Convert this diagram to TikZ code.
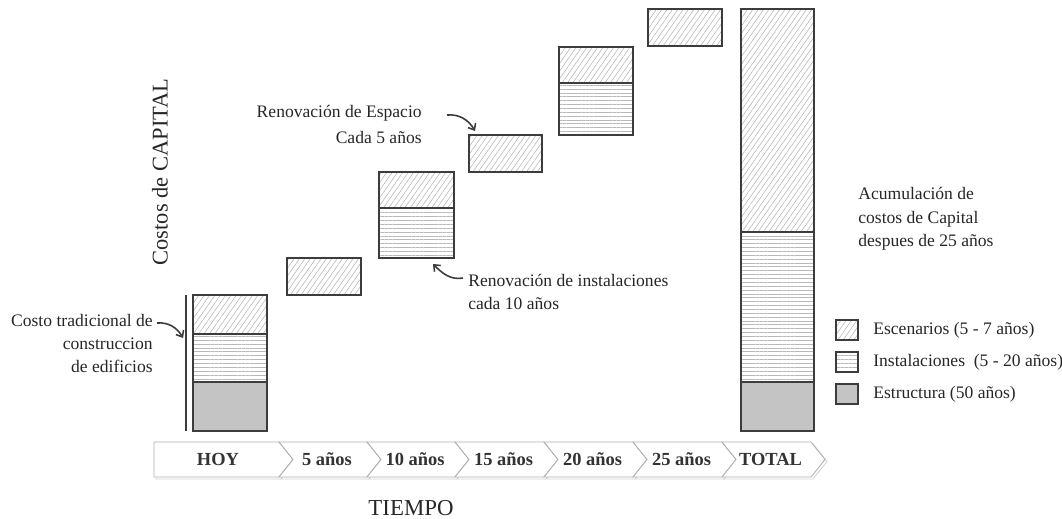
\documentclass[tikz,border=0pt]{standalone}
\usepackage{fontspec}
\setmainfont{Liberation Serif}
\usetikzlibrary{arrows.meta, patterns.meta, calc}
\definecolor{framegray}{RGB}{60, 60, 60}
\definecolor{structgray}{RGB}{196, 196, 196}
\tikzset{
    escenario/.style={draw=framegray, line width=0.8pt, pattern={Lines[angle=55, distance=2.5pt, line width=0.3pt]}, pattern color=gray!60},
    instalacion/.style={draw=framegray, line width=0.8pt, pattern={Lines[angle=0, distance=2.2pt, line width=0.35pt]}, pattern color=gray!55},
    estructura/.style={draw=framegray, line width=0.8pt, fill=structgray},
    note/.style={font=\fontsize{10}{13}\selectfont, inner sep=0pt, text=black!85},
    curvy/.style={-{Straight Barb[length=3pt, width=5pt]}, line width=0.9pt, framegray},
    chevron/.style={draw=gray!60, fill=white, line width=0.5pt},
    chevshadow/.style={draw=gray!35, line width=0.5pt},
    steplabel/.style={font=\fontsize{10.5}{12}\selectfont\bfseries, text=black!80}
}

\begin{document}
\begin{tikzpicture}[x=0.02cm, y=0.02cm]
    \useasboundingbox (0,0) rectangle (1062,-518);

    % --- axis titles ---
    \node[rotate=90, font=\fontsize{12.8}{15}\selectfont, text=black!85] (ejecostos) at (160,-172) {Costos de CAPITAL};
    \node[font=\fontsize{13}{15}\selectfont, text=black!85, anchor=base] (ejetiempo) at (411,-515) {TIEMPO};

    % --- HOY: traditional building ---
    \draw[framegray, line width=0.6pt] (186,-295) -- (186,-431);
    \draw[escenario] (193,-295) rectangle (267,-334);
    \draw[instalacion] (193,-334) rectangle (267,-382);
    \draw[estructura] (193,-382) rectangle (267,-431);

    % --- renewals every 5 / 10 years ---
    \draw[escenario] (287,-258) rectangle (361,-295);
    \draw[escenario] (379,-172) rectangle (454,-208);
    \draw[instalacion] (379,-208) rectangle (454,-258);
    \draw[escenario] (469,-135) rectangle (542,-172);
    \draw[escenario] (559,-47) rectangle (633,-83);
    \draw[instalacion] (559,-83) rectangle (633,-135);
    \draw[escenario] (648,-9) rectangle (722,-46);

    % --- TOTAL ---
    \draw[escenario] (741,-9) rectangle (814,-232);
    \draw[instalacion] (741,-232) rectangle (814,-382);
    \draw[estructura] (741,-382) rectangle (814,-431);

    % --- annotations ---
    \node[note, align=right, anchor=north east] (tradicional) at (153,-314)
        {Costo tradicional de\\construccion\\de edificios};
    \node[note, align=right, anchor=north east, font=\fontsize{10}{14.5}\selectfont] (espacio) at (422,-105)
        {Renovación de Espacio\\Cada 5 años};
    \node[note, align=left, anchor=north west] (instal) at (468,-274)
        {Renovación de instalaciones\\cada 10 años};
    \node[note, align=left, anchor=north west, font=\fontsize{10}{13.4}\selectfont] (acumul) at (858,-187)
        {Acumulación de\\costos de Capital\\despues de 25 años};

    \coordinate (tradIni) at (157,-323);
    \coordinate (tradFin) at (183,-338);
    \coordinate (espIni) at (447,-115);
    \coordinate (espFin) at (475,-131);
    \coordinate (instIni) at (463,-278);
    \coordinate (instFin) at (433,-264);
    \draw[curvy] (tradIni) to[out=5, in=120] (tradFin);
    \draw[curvy] (espIni) to[out=5, in=120] (espFin);
    \draw[curvy] (instIni) to[out=190, in=-45] (instFin);

    % --- legend ---
    \draw[escenario] (836,-320) rectangle (858,-340);
    \draw[instalacion] (836,-352) rectangle (858,-372);
    \draw[estructura] (836,-384) rectangle (858,-404);
    \node[note, anchor=west] (legesc) at (873,-330) {Escenarios (5 - 7 años)};
    \node[note, anchor=west] (leginst) at (873,-362) {Instalaciones~ (5 - 20 años)};
    \node[note, anchor=west] (legest) at (873,-394) {Estructura (50 años)};

    % --- time line ---
    \draw[chevshadow] (156,-444) -- (281,-444) -- (295,-461.5) -- (281,-479) -- (156,-479) -- cycle;
    \draw[chevron] (154,-442) -- (279,-442) -- (293,-459.5) -- (279,-477) -- (154,-477) -- cycle;
    \node[steplabel] (hoy) at (218,-459.5) {HOY};
    \foreach \xa/\xb/\txt/\nm in {279/367/5 años/y5, 367/455/10 años/y10, 455/544/15 años/y15,
                                  544/633/20 años/y20, 633/722/25 años/y25, 722/811/TOTAL/total}{
        \draw[chevshadow] (\xa+2,-444) -- (\xb+2,-444) -- (\xb+16,-461.5) -- (\xb+2,-479)
            -- (\xa+2,-479) -- (\xa+16,-461.5) -- cycle;
        \draw[chevron] (\xa,-442) -- (\xb,-442) -- (\xb+14,-459.5) -- (\xb,-477)
            -- (\xa,-477) -- (\xa+14,-459.5) -- cycle;
        \node[steplabel] (\nm) at ({(\xa+\xb)/2+4},-459.5) {\txt};
    }
\end{tikzpicture}
\end{document}
